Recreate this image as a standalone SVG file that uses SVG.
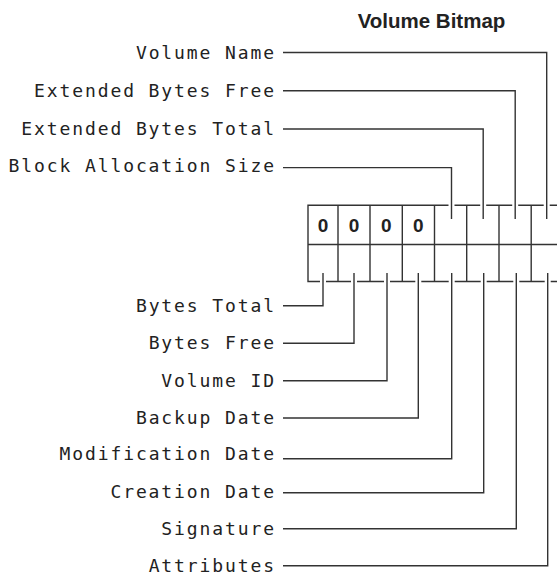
<svg xmlns="http://www.w3.org/2000/svg" xmlns:xlink="http://www.w3.org/1999/xlink" width="557" height="575" viewBox="0 0 557 575">
<style>
.lbl{font-family:"DejaVu Sans Mono","Liberation Mono",monospace;font-size:18px;letter-spacing:1.9px;fill:#222;text-anchor:end}
.ttl{font-family:"Liberation Sans",Arial,sans-serif;font-size:20.5px;font-weight:bold;fill:#222;text-anchor:middle}
.dig{font-family:"Liberation Sans",Arial,sans-serif;font-size:19px;font-weight:bold;fill:#222;text-anchor:middle}
.grid{fill:none;stroke:#333;stroke-width:1.4}
.halo{fill:none;stroke:#fff;stroke-width:6}
.wire{fill:none;stroke:#333;stroke-width:1.4}
</style>
<defs>
<path id="c1" d="M283 52.5H546.7V219"/>
<path id="c2" d="M283 90.8H515.2V219"/>
<path id="c3" d="M283 129H483.2V219"/>
<path id="c4" d="M283 167.6H451.5V219"/>
<path id="c5" d="M283 305.7H323V273"/>
<path id="c6" d="M283 343.3H354V273"/>
<path id="c7" d="M283 380.7H387V273"/>
<path id="c8" d="M283 418H418.3V273"/>
<path id="c9" d="M283 458.7H451.7V273"/>
<path id="c10" d="M283 492.7H483.7V273"/>
<path id="c11" d="M283 528.7H516.3V273"/>
<path id="c12" d="M283 565.7H547.7V273"/>
</defs>
<g id="title"><text class="ttl" x="431.5" y="27.5">Volume Bitmap</text></g>
<g id="bitmap">
<path class="grid" d="M560 205.3H308V281.5H560M308 244.5H560M338 205.3V281.5M370 205.3V281.5M402.3 205.3V281.5M434.5 205.3V281.5M466.7 205.3V281.5M499 205.3V281.5M531.2 205.3V281.5"/>
<text class="dig" x="323" y="231.7">0</text>
<text class="dig" x="354" y="231.7">0</text>
<text class="dig" x="386.2" y="231.7">0</text>
<text class="dig" x="418.3" y="231.7">0</text>
</g>
<g id="connectors">
<g class="halo">
<use xlink:href="#c1"/><use xlink:href="#c2"/><use xlink:href="#c3"/><use xlink:href="#c4"/>
<use xlink:href="#c5"/><use xlink:href="#c6"/><use xlink:href="#c7"/><use xlink:href="#c8"/>
<use xlink:href="#c9"/><use xlink:href="#c10"/><use xlink:href="#c11"/><use xlink:href="#c12"/>
</g>
<g class="wire">
<use xlink:href="#c1"/><use xlink:href="#c2"/><use xlink:href="#c3"/><use xlink:href="#c4"/>
<use xlink:href="#c5"/><use xlink:href="#c6"/><use xlink:href="#c7"/><use xlink:href="#c8"/>
<use xlink:href="#c9"/><use xlink:href="#c10"/><use xlink:href="#c11"/><use xlink:href="#c12"/>
</g>
</g>
<g id="volume-name"><text class="lbl" x="276" y="58.7">Volume Name</text></g>
<g id="extended-bytes-free"><text class="lbl" x="276" y="97.2">Extended Bytes Free</text></g>
<g id="extended-bytes-total"><text class="lbl" x="276" y="134.5">Extended Bytes Total</text></g>
<g id="block-allocation-size"><text class="lbl" x="276" y="171.7">Block Allocation Size</text></g>
<g id="bytes-total"><text class="lbl" x="276" y="312">Bytes Total</text></g>
<g id="bytes-free"><text class="lbl" x="276" y="348.8">Bytes Free</text></g>
<g id="volume-id"><text class="lbl" x="276" y="386.5">Volume ID</text></g>
<g id="backup-date"><text class="lbl" x="276" y="423.5">Backup Date</text></g>
<g id="modification-date"><text class="lbl" x="276" y="460.3">Modification Date</text></g>
<g id="creation-date"><text class="lbl" x="276" y="498.2">Creation Date</text></g>
<g id="signature"><text class="lbl" x="276" y="534.8">Signature</text></g>
<g id="attributes"><text class="lbl" x="276" y="571.5">Attributes</text></g>
</svg>
